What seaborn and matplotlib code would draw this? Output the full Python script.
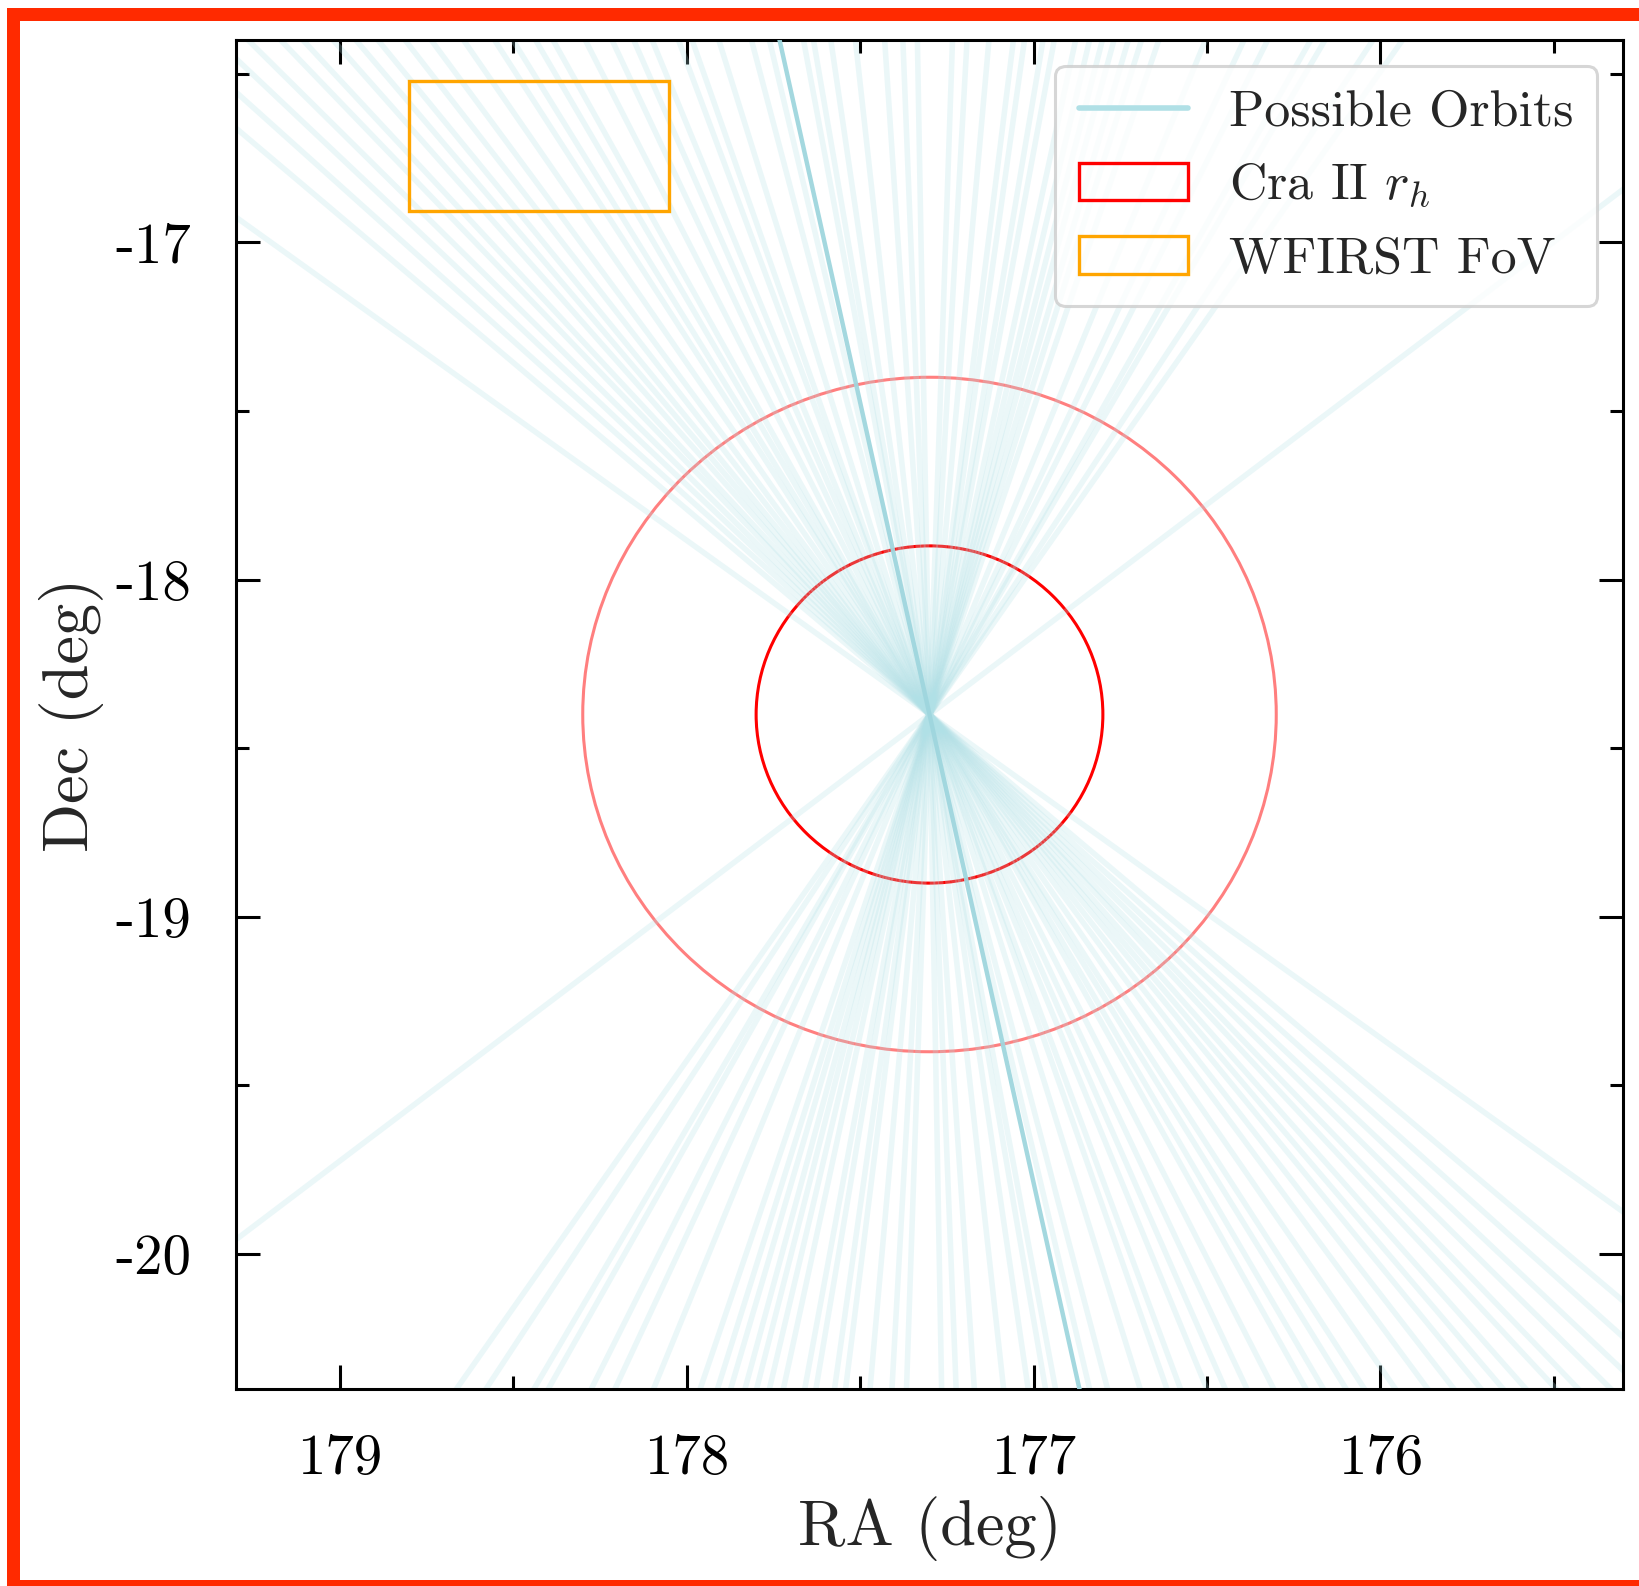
import numpy as np
import pandas as pd
import matplotlib
matplotlib.use("Agg")
import matplotlib.pyplot as plt
import seaborn as sns
from matplotlib.patches import Circle, Rectangle
from matplotlib.lines import Line2D
from matplotlib.ticker import MultipleLocator

# ---------------- data ----------------
center_ra = 177.30
center_dec = -18.40
rh_inner = 0.5          # Cra II r_h (deg)
rh_outer = 1.0          # 2 r_h (deg)
# WFIRST field of view (RA min, Dec min, width, height) in deg
fov_ra = 178.05
fov_dec = -16.907
fov_w = 0.75
fov_h = 0.384
# orbit directions: angle (deg) of each possible orbit, measured from Dec axis
orbit_angles = [-52.1, -34.3, -32.6, -29.7, -28.8, -26.0, -24.4, -21.7, -18.3, -17.0,
                -16.0, -14.9, -14.0, -13.0, -11.9, -10.2, -9.3, -7.8, -6.9, -4.9,
                -3.1, -1.9, 1.0, 2.2, 3.7, 6.1, 8.1, 9.5, 10.3, 13.0, 14.4, 16.9,
                18.9, 19.9, 21.8, 23.1, 24.6, 26.4, 28.5, 29.6, 31.0, 32.1, 33.9,
                35.7, 37.1, 38.5, 39.6, 40.7, 42.1, 43.1, 44.5, 45.8, 47.3, 49.0, 53.6]
highlight_angle = 12.2
x_ticks = [179, 178, 177, 176]
y_ticks = [-17, -18, -19, -20]
labels = ["Possible Orbits", "Cra II $r_h$", "WFIRST FoV"]

# ---------------- build line table ----------------
rows = []
for i, a in enumerate(orbit_angles):
    k = np.tan(np.radians(a))
    for d in (-3.0, 3.0):
        rows.append({"orbit": i, "ra": center_ra + k * d, "dec": center_dec + d})
df = pd.DataFrame(rows)
kh = np.tan(np.radians(highlight_angle))
df_h = pd.DataFrame({"orbit": [0, 0],
                     "ra": [center_ra - 3.0 * kh, center_ra + 3.0 * kh],
                     "dec": [center_dec - 3.0, center_dec + 3.0]})

# ---------------- style ----------------
sns.set_style("ticks")
plt.rcParams.update({
    "font.family": ["cmr10"],
    "mathtext.fontset": "cm",
    "axes.unicode_minus": False,
    "axes.formatter.use_mathtext": False,
})

DPI = 200
fig = plt.figure(figsize=(1639 / DPI, 1586 / DPI), dpi=DPI)
fig.patch.set_facecolor("white")
ax = fig.add_axes([236 / 1639, 1 - 1389 / 1586, (1623 - 236) / 1639, (1389 - 40) / 1586])

# circles first (below orbits)
ax.add_patch(Circle((center_ra, center_dec), rh_outer, fill=False, ec="red", lw=1.1, alpha=0.5, zorder=1))
ax.add_patch(Circle((center_ra, center_dec), rh_inner, fill=False, ec="red", lw=1.1, zorder=1))

sns.lineplot(data=df, x="ra", y="dec", units="orbit", estimator=None, sort=False,
             color="powderblue", alpha=0.25, lw=2.0, ax=ax, legend=False, zorder=2)
sns.lineplot(data=df_h, x="ra", y="dec", units="orbit", estimator=None, sort=False,
             color="#9fd6de", alpha=0.95, lw=1.6, ax=ax, legend=False, zorder=3)

ax.add_patch(Rectangle((fov_ra, fov_dec), fov_w, fov_h, fill=False, ec="orange", lw=1.2, zorder=4))

ax.set_xlim(179.3, 175.3)
ax.set_ylim(-20.4, -16.4)
ax.set_xticks(x_ticks)
ax.set_yticks(y_ticks)
ax.set_xticklabels([str(t) for t in x_ticks])
ax.set_yticklabels([str(t) for t in y_ticks])
ax.xaxis.set_minor_locator(MultipleLocator(0.5))
ax.yaxis.set_minor_locator(MultipleLocator(0.5))
ax.tick_params(which="both", direction="in", top=True, right=True, colors="black")
ax.tick_params(which="major", length=8.5, width=1.1, pad=16, labelsize=20.5)
ax.tick_params(which="minor", length=4.8, width=1.1)
for s in ax.spines.values():
    s.set_linewidth(1.1)
    s.set_color("black")

ax.set_xlabel("RA (deg)", fontsize=23.2, labelpad=4)
ax.set_ylabel("Dec (deg)", fontsize=23.2, labelpad=4)

handles = [Line2D([], [], color="powderblue", lw=2.0),
           Rectangle((0, 0), 1, 1, fill=False, ec="red", lw=1.2),
           Rectangle((0, 0), 1, 1, fill=False, ec="orange", lw=1.2)]
leg = ax.legend(handles, labels, loc="upper right", fontsize=18.7, handlelength=2.1,
                handleheight=0.73, handletextpad=0.8, fancybox=True, framealpha=0.8,
                edgecolor="0.8", labelspacing=0.5, borderpad=0.45)
leg.get_frame().set_linewidth(1.1)

# red outer frame
fig.add_artist(Rectangle((13.5 / 1639, 0.0), 1.2, 1 - 14 / 1586, transform=fig.transFigure,
                         fill=False, ec="#ff2a00", lw=13 * 72 / DPI, zorder=10))

fig.savefig("out.png", dpi=DPI)
